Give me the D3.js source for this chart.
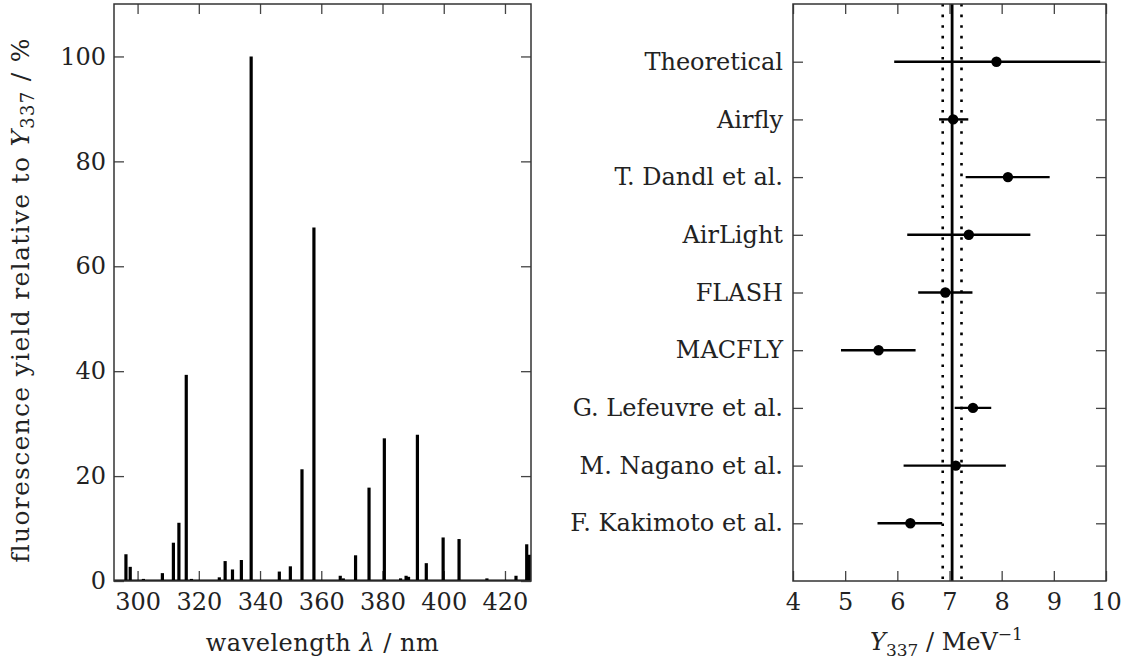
<!DOCTYPE html>
<html><head><meta charset="utf-8">
<script src="https://cdn.jsdelivr.net/npm/d3@7"></script>
<style>
body{margin:0;background:#fff}
text{font-family:"DejaVu Serif",serif;fill:#222}
</style></head>
<body><svg id="c" width="1127" height="666"></svg>
<script>
// ---- left panel: fluorescence spectrum (band wavelength in nm, yield in % of Y337)
const bandWavelengths = [296.2, 297.6, 301.9, 308.1, 311.7, 313.5, 315.9, 317.6, 326.7, 328.6, 331.0, 333.9,
  337.1, 346.3, 349.9, 353.7, 357.6, 366.2, 367.2, 371.2, 375.6, 380.6, 385.9, 387.7, 388.5, 391.4, 394.3,
  399.8, 405.0, 414.1, 423.6, 427.1, 428.0];
const bandYields = [5.1, 2.7, 0.4, 1.5, 7.3, 11.1, 39.3, 0.4, 0.7, 3.8, 2.2, 4.0,
  100, 1.8, 2.8, 21.3, 67.4, 1.0, 0.5, 4.9, 17.8, 27.2, 0.5, 1.0, 0.8, 27.9, 3.4,
  8.3, 8.0, 0.5, 1.0, 7.0, 5.0];
const wavelengthDomain = [292.3, 428.5];
const yieldDomain = [0, 110];
const wavelengthTicks = [300, 320, 340, 360, 380, 400, 420];
const yieldTicks = [0, 20, 40, 60, 80, 100];

// ---- right panel: absolute yield measurements
const experiments = ["Theoretical", "Airfly", "T. Dandl et al.", "AirLight", "FLASH", "MACFLY",
  "G. Lefeuvre et al.", "M. Nagano et al.", "F. Kakimoto et al."];
const y337 = [7.90, 7.07, 8.12, 7.37, 6.92, 5.64, 7.45, 7.12, 6.25];
const y337Low = [5.94, 6.80, 7.31, 6.19, 6.40, 4.92, 7.10, 6.12, 5.62];
const y337High = [9.89, 7.36, 8.92, 8.55, 7.44, 6.35, 7.80, 8.08, 6.86];
const referenceY337 = 7.05;
const referenceBand = [6.87, 7.23];
const y337Domain = [4, 10];
const y337Ticks = [4, 5, 6, 7, 8, 9, 10];

const svg = d3.select("#c");
const tickColor = "#444";

function styleAxis(g) {
  g.select(".domain").remove();
  g.selectAll(".tick line").attr("stroke", tickColor).attr("stroke-width", 1.3);
  g.selectAll(".tick text").attr("font-family", "DejaVu Serif").attr("font-size", 24).attr("fill", "#222");
}

// ================= LEFT PANEL =================
const L = {x0: 114, x1: 531, y0: 4, y1: 581};
const xL = d3.scaleLinear(wavelengthDomain, [L.x0, L.x1]);
const yL = d3.scaleLinear(yieldDomain, [L.y1, L.y0]);

svg.append("defs").append("clipPath").attr("id", "clipL")
  .append("rect").attr("x", L.x0).attr("y", L.y0).attr("width", L.x1 - L.x0).attr("height", L.y1 - L.y0);

const gL = svg.append("g");
gL.append("g").attr("transform", `translate(0,${L.y1})`)
  .call(d3.axisBottom(xL).tickValues(wavelengthTicks).tickSizeInner(-10).tickSizeOuter(0).tickPadding(12))
  .call(styleAxis);
gL.append("g").attr("transform", `translate(0,${L.y0})`)
  .call(d3.axisTop(xL).tickValues(wavelengthTicks).tickSizeInner(-10).tickSizeOuter(0).tickFormat(""))
  .call(styleAxis);
gL.append("g").attr("transform", `translate(${L.x0},0)`)
  .call(d3.axisLeft(yL).tickValues(yieldTicks).tickSizeInner(-10).tickSizeOuter(0).tickPadding(8))
  .call(styleAxis);
gL.append("g").attr("transform", `translate(${L.x1},0)`)
  .call(d3.axisRight(yL).tickValues(yieldTicks).tickSizeInner(-10).tickSizeOuter(0).tickFormat(""))
  .call(styleAxis);

const spec = gL.append("g").attr("clip-path", "url(#clipL)");
spec.append("line")
  .attr("x1", xL(wavelengthDomain[0])).attr("x2", xL(wavelengthDomain[1]))
  .attr("y1", yL(0)).attr("y2", yL(0))
  .attr("stroke", "#000").attr("stroke-width", 3);
spec.selectAll("line.band").data(bandWavelengths).join("line").attr("class", "band")
  .attr("x1", d => xL(d)).attr("x2", d => xL(d))
  .attr("y1", yL(0)).attr("y2", (d, i) => yL(bandYields[i]))
  .attr("stroke", "#000").attr("stroke-width", 3.2);

gL.append("rect").attr("x", L.x0).attr("y", L.y0).attr("width", L.x1 - L.x0).attr("height", L.y1 - L.y0)
  .attr("fill", "none").attr("stroke", "#333").attr("stroke-width", 1.5);

gL.append("text").attr("x", (L.x0 + L.x1) / 2).attr("y", 651).attr("text-anchor", "middle")
  .attr("font-size", 24).attr("letter-spacing", 0.5)
  .html('wavelength <tspan font-style="italic">λ</tspan> / nm');

gL.append("text").attr("transform", `translate(29,300) rotate(-90)`)
  .attr("text-anchor", "middle").attr("font-size", 25).attr("letter-spacing", 1.3)
  .html('fluorescence yield relative to <tspan font-style="italic">Y</tspan><tspan font-size="18" dy="5">337</tspan><tspan dy="-5"> / %</tspan>');

// ================= RIGHT PANEL =================
const R = {x0: 793, x1: 1106, y0: 4, y1: 581};
const xR = d3.scaleLinear(y337Domain, [R.x0, R.x1]);
const yR = d3.scalePoint(experiments, [R.y0, R.y1]).padding(1);

const gR = svg.append("g");
gR.append("g").attr("transform", `translate(0,${R.y1})`)
  .call(d3.axisBottom(xR).tickValues(y337Ticks).tickFormat(d3.format("d")).tickSizeInner(-10).tickSizeOuter(0).tickPadding(12))
  .call(styleAxis);
gR.append("g").attr("transform", `translate(0,${R.y0})`)
  .call(d3.axisTop(xR).tickValues(y337Ticks).tickSizeInner(-10).tickSizeOuter(0).tickFormat(""))
  .call(styleAxis);
gR.append("g").attr("transform", `translate(${R.x0},0)`)
  .call(d3.axisLeft(yR).tickSizeInner(-10).tickSizeOuter(0).tickPadding(10))
  .call(styleAxis);
gR.append("g").attr("transform", `translate(${R.x1},0)`)
  .call(d3.axisRight(yR).tickSizeInner(-10).tickSizeOuter(0).tickFormat(""))
  .call(styleAxis);

// reference band lines
gR.selectAll("line.ref").data(referenceBand).join("line").attr("class", "ref")
  .attr("x1", d => xR(d)).attr("x2", d => xR(d)).attr("y1", R.y0).attr("y2", R.y1)
  .attr("stroke", "#000").attr("stroke-width", 2.6).attr("stroke-dasharray", "2.6,8");
gR.append("line")
  .attr("x1", xR(referenceY337)).attr("x2", xR(referenceY337)).attr("y1", R.y0).attr("y2", R.y1)
  .attr("stroke", "#000").attr("stroke-width", 2.8);

// error bars
gR.selectAll("line.err").data(experiments).join("line").attr("class", "err")
  .attr("x1", (d, i) => xR(y337Low[i])).attr("x2", (d, i) => xR(y337High[i]))
  .attr("y1", d => yR(d)).attr("y2", d => yR(d))
  .attr("stroke", "#000").attr("stroke-width", 2.4);
gR.selectAll("circle.pt").data(experiments).join("circle").attr("class", "pt")
  .attr("cx", (d, i) => xR(y337[i])).attr("cy", d => yR(d)).attr("r", 5.2).attr("fill", "#000");

gR.append("rect").attr("x", R.x0).attr("y", R.y0).attr("width", R.x1 - R.x0).attr("height", R.y1 - R.y0)
  .attr("fill", "none").attr("stroke", "#333").attr("stroke-width", 1.5);

gR.append("text").attr("x", (R.x0 + R.x1) / 2 - 3).attr("y", 650).attr("text-anchor", "middle")
  .attr("font-size", 24)
  .html('<tspan font-style="italic">Y</tspan><tspan font-size="17" dy="6">337</tspan><tspan dy="-6"> / MeV</tspan><tspan font-size="17" dy="-10">−1</tspan>');
</script></body></html>
